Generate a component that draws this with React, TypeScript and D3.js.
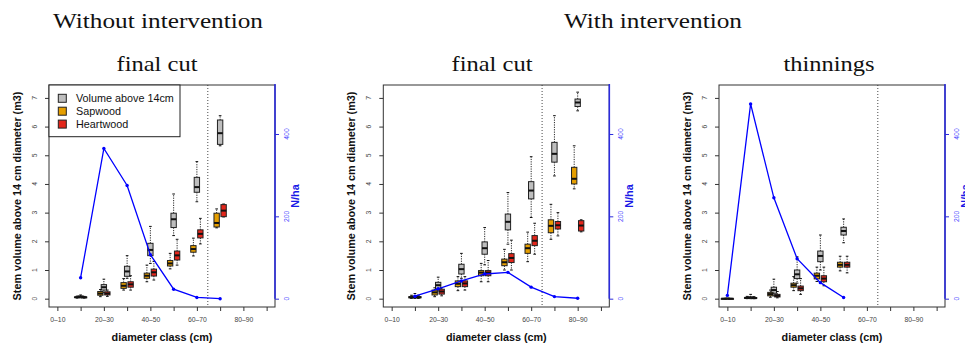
import { useEffect, useRef } from 'react';
import * as d3 from 'd3';

// diameter classes on the x axis
const allClasses = ['0–10', '10–20', '20–30', '30–40', '40–50', '50–60', '60–70', '70–80', '80–90', '90–100'];
const shownTickLabels = ['0–10', '20–30', '40–50', '60–70', '80–90'];

// box stats: [min, q1, median, q3, max] (m3)
// without intervention, final cut
const classesA = ['10–20', '20–30', '30–40', '40–50', '50–60', '60–70', '70–80'];
const volumeA = [
  [0.03, 0.05, 0.07, 0.09, 0.13],
  [0.22, 0.3, 0.4, 0.49, 0.68],
  [0.71, 0.78, 0.95, 1.13, 1.5],
  [1.23, 1.5, 1.7, 1.93, 2.52],
  [2.2, 2.48, 2.77, 2.98, 3.65],
  [3.38, 3.71, 3.89, 4.23, 4.78],
  [5.33, 5.38, 5.77, 6.23, 6.38],
];
const sapwoodA = [
  [0.02, 0.04, 0.05, 0.06, 0.09],
  [0.07, 0.12, 0.18, 0.25, 0.32],
  [0.3, 0.36, 0.45, 0.56, 0.7],
  [0.59, 0.71, 0.8, 0.89, 1.17],
  [1.04, 1.14, 1.23, 1.33, 1.58],
  [1.49, 1.62, 1.73, 1.85, 2.11],
  [2.47, 2.5, 2.64, 2.98, 3.13],
];
const heartwoodA = [
  [0.02, 0.03, 0.05, 0.06, 0.08],
  [0.08, 0.13, 0.18, 0.24, 0.3],
  [0.3, 0.4, 0.5, 0.59, 0.8],
  [0.65, 0.79, 0.92, 1.03, 1.3],
  [1.17, 1.35, 1.51, 1.66, 2.07],
  [1.91, 2.12, 2.26, 2.4, 2.8],
  [2.85, 2.86, 3.07, 3.28, 3.3],
];
const nhaA = [51, 365, 275, 107, 23, 3, 0];

// with intervention, final cut
const classesB = ['10–20', '20–30', '30–40', '40–50', '50–60', '60–70', '70–80', '80–90'];
const volumeB = [
  [0.01, 0.04, 0.06, 0.09, 0.18],
  [0.27, 0.34, 0.47, 0.57, 0.75],
  [0.71, 0.86, 1.03, 1.2, 1.58],
  [1.18, 1.55, 1.76, 1.98, 2.48],
  [1.9, 2.4, 2.68, 2.95, 3.7],
  [2.83, 3.48, 3.77, 4.08, 4.95],
  [4.28, 4.76, 5.05, 5.45, 6.38],
  [6.55, 6.7, 6.84, 6.96, 7.2],
];
const sapwoodB = [
  [0.01, 0.03, 0.05, 0.07, 0.12],
  [0.07, 0.13, 0.22, 0.3, 0.38],
  [0.28, 0.42, 0.52, 0.62, 0.77],
  [0.59, 0.8, 0.91, 0.98, 1.23],
  [1.0, 1.15, 1.27, 1.38, 1.72],
  [1.29, 1.58, 1.76, 1.9, 2.32],
  [2.07, 2.3, 2.54, 2.75, 3.29],
  [3.83, 4.0, 4.18, 4.58, 5.33],
];
const heartwoodB = [
  [0.01, 0.03, 0.05, 0.07, 0.12],
  [0.1, 0.16, 0.25, 0.33, 0.38],
  [0.3, 0.42, 0.53, 0.62, 0.77],
  [0.59, 0.8, 0.91, 0.98, 1.33],
  [1.0, 1.26, 1.42, 1.57, 2.04],
  [1.55, 1.85, 2.02, 2.2, 2.63],
  [2.19, 2.43, 2.56, 2.69, 3.0],
  [2.33, 2.36, 2.55, 2.72, 2.75],
];
const nhaB = [6, 24, 43, 60, 64, 28, 5, 1];

// with intervention, thinnings
const classesC = ['0–10', '10–20', '20–30', '30–40', '40–50', '50–60'];
const volumeC = [
  [0, 0, 0, 0.01, 0.02],
  [0, 0.02, 0.04, 0.06, 0.15],
  [0.1, 0.19, 0.3, 0.4, 0.68],
  [0.54, 0.7, 0.85, 1.0, 1.46],
  [1.0, 1.29, 1.49, 1.66, 2.22],
  [1.95, 2.22, 2.36, 2.49, 2.78],
];
const sapwoodC = [
  [0, 0, 0, 0, 0.01],
  [0, 0.01, 0.03, 0.04, 0.08],
  [0.05, 0.1, 0.16, 0.22, 0.3],
  [0.28, 0.4, 0.47, 0.54, 0.77],
  [0.6, 0.69, 0.8, 0.89, 1.1],
  [0.97, 1.1, 1.18, 1.27, 1.48],
];
const heartwoodC = [
  [0, 0, 0, 0, 0.01],
  [0, 0.01, 0.02, 0.04, 0.07],
  [0.03, 0.06, 0.1, 0.15, 0.25],
  [0.15, 0.28, 0.36, 0.44, 0.7],
  [0.45, 0.59, 0.7, 0.8, 1.1],
  [0.9, 1.1, 1.18, 1.27, 1.48],
];
const nhaC = [8, 473, 245, 97, 39, 3];

const legendLabels = ['Volume above 14cm', 'Sapwood', 'Heartwood'];
const boxColors = ['#bebebe', '#e69f00', '#e3261b'];

const App = () => {
  const svgRef = useRef<SVGSVGElement>(null);

  useEffect(() => {
    const svg = d3.select(svgRef.current);
    svg.selectAll('*').remove();

    const top = 85;
    const bottom = 307;
    const pw = 226;
    const sans = 'Liberation Sans, Arial, sans-serif';
    const serif = 'Liberation Serif, Times New Roman, serif';
    const blue = '#0000ff';
    const blueAxis = '#2b2bdd';
    const blueText = '#4545ff';

    const yV = d3.scaleLinear().domain([-0.29, 7.45]).range([bottom, top]);
    const yN = d3.scaleLinear().domain([-20.2, 519]).range([bottom, top]);

    // titles
    const titles = [
      { t: 'Without intervention', x: 158, y: 28, w: 210 },
      { t: 'With intervention', x: 653, y: 28, w: 178 },
      { t: 'final cut', x: 157, y: 71, w: 81 },
      { t: 'final cut', x: 492, y: 71, w: 81 },
      { t: 'thinnings', x: 829, y: 71, w: 91 },
    ];
    titles.forEach((d) => {
      svg
        .append('text')
        .attr('x', d.x)
        .attr('y', d.y)
        .attr('text-anchor', 'middle')
        .attr('textLength', d.w)
        .attr('lengthAdjust', 'spacingAndGlyphs')
        .style('font-family', serif)
        .style('font-size', '22px')
        .style('fill', '#111')
        .text(d.t);
    });

    const panels = [
      { left: 49, classes: classesA, series: [volumeA, sapwoodA, heartwoodA], nha: nhaA, legend: true },
      { left: 383.3, classes: classesB, series: [volumeB, sapwoodB, heartwoodB], nha: nhaB, legend: false },
      { left: 719, classes: classesC, series: [volumeC, sapwoodC, heartwoodC], nha: nhaC, legend: false },
    ];
    const offsets = [0, -0.15, 0.15];

    panels.forEach((p) => {
      const g = svg.append('g');
      const right = p.left + pw;
      const x = d3.scaleLinear().domain([0.64, 10.36]).range([p.left, right]);
      const xi = (c: string) => allClasses.indexOf(c) + 1;
      const bw = x(1.23) - x(1);

      // dotted divider
      g.append('line')
        .attr('x1', x(7.47))
        .attr('x2', x(7.47))
        .attr('y1', top)
        .attr('y2', bottom)
        .attr('stroke', '#333')
        .attr('stroke-width', 0.9)
        .attr('stroke-dasharray', '1,2');

      // boxplots
      p.series.forEach((s, si) => {
        s.forEach((st, ci) => {
          const cx = x(xi(p.classes[ci]) + offsets[si]);
          const [mn, q1, md, q3, mx] = st.map((v) => yV(v));
          const bg = g.append('g');
          [
            [q3, mx],
            [q1, mn],
          ].forEach(([a, b]) => {
            bg.append('line')
              .attr('x1', cx).attr('x2', cx).attr('y1', a).attr('y2', b)
              .attr('stroke', '#111').attr('stroke-width', 0.9)
              .attr('stroke-dasharray', '1.2,1.2');
          });
          [mn, mx].forEach((v) => {
            bg.append('line')
              .attr('x1', cx - bw / 4).attr('x2', cx + bw / 4).attr('y1', v).attr('y2', v)
              .attr('stroke', '#111').attr('stroke-width', 1);
          });
          bg.append('rect')
            .attr('x', cx - bw / 2)
            .attr('y', q3)
            .attr('width', bw)
            .attr('height', Math.max(q1 - q3, 0.6))
            .attr('fill', boxColors[si])
            .attr('stroke', '#222')
            .attr('stroke-width', 1);
          bg.append('line')
            .attr('x1', cx - bw / 2).attr('x2', cx + bw / 2).attr('y1', md).attr('y2', md)
            .attr('stroke', '#111').attr('stroke-width', 2);
        });
      });

      // N/ha line
      const pts = p.nha.map((v, i) => [x(xi(p.classes[i])), yN(v)] as [number, number]);
      g.append('path')
        .attr('d', d3.line()(pts))
        .attr('fill', 'none')
        .attr('stroke', blue)
        .attr('stroke-width', 1.3);
      g.selectAll('circle.pt')
        .data(pts)
        .enter()
        .append('circle')
        .attr('cx', (d) => d[0])
        .attr('cy', (d) => d[1])
        .attr('r', 1.7)
        .attr('fill', blue);

      // frame
      g.append('rect')
        .attr('x', p.left)
        .attr('y', top)
        .attr('width', pw)
        .attr('height', bottom - top)
        .attr('fill', 'none')
        .attr('stroke', '#333')
        .attr('stroke-width', 1);

      // left axis
      const la = g
        .append('g')
        .attr('transform', `translate(${p.left},0)`)
        .call(d3.axisLeft(yV).tickValues(d3.range(0, 8)).tickSize(4).tickSizeOuter(0).tickFormat(() => ''));
      la.select('.domain').remove();
      la.selectAll('line').attr('stroke', '#333');
      d3.range(0, 8).forEach((v) => {
        g.append('text')
          .attr('transform', `translate(${p.left - 12},${yV(v)}) rotate(-90)`)
          .attr('text-anchor', 'middle')
          .style('font-family', sans)
          .style('font-size', '6.8px')
          .style('fill', '#444')
          .text(v);
      });

      // bottom axis
      const ba = g
        .append('g')
        .attr('transform', `translate(0,${bottom})`)
        .call(
          d3
            .axisBottom(x)
            .tickValues(d3.range(1, 11))
            .tickSize(4)
            .tickSizeOuter(0)
            .tickPadding(6)
            .tickFormat((d) => {
              const lab = allClasses[(d as number) - 1];
              return shownTickLabels.includes(lab) ? lab : '';
            })
        );
      ba.select('.domain').remove();
      ba.selectAll('line').attr('stroke', '#333');
      ba.selectAll('text').style('font-family', sans).style('font-size', '6.8px').style('fill', '#444');

      // right axis (N/ha)
      g.append('line')
        .attr('x1', right).attr('x2', right).attr('y1', top - 1).attr('y2', yN(0))
        .attr('stroke', blueAxis).attr('stroke-width', 1.6);
      const ra = g
        .append('g')
        .attr('transform', `translate(${right},0)`)
        .call(d3.axisRight(yN).tickValues([0, 200, 400]).tickSize(4).tickSizeOuter(0).tickFormat(() => ''));
      ra.select('.domain').remove();
      ra.selectAll('line').attr('stroke', blueAxis);
      [0, 200, 400].forEach((v) => {
        g.append('text')
          .attr('transform', `translate(${right + 14},${yN(v)}) rotate(-90)`)
          .attr('text-anchor', 'middle')
          .style('font-family', sans)
          .style('font-size', '6.8px')
          .style('fill', blueText)
          .text(v);
      });

      // axis titles
      const midY = (top + bottom) / 2;
      g.append('text')
        .attr('transform', `translate(${p.left - 28.5},${midY}) rotate(-90)`)
        .attr('text-anchor', 'middle')
        .style('font-family', sans)
        .style('font-size', '10.8px')
        .style('font-weight', 'bold')
        .style('fill', '#111')
        .text('Stem volume above 14 cm diameter (m3)');
      g.append('text')
        .attr('transform', `translate(${right + 24},${midY}) rotate(-90)`)
        .attr('text-anchor', 'middle')
        .style('font-family', sans)
        .style('font-size', '10.8px')
        .style('font-weight', 'bold')
        .style('fill', '#1a1ae6')
        .text('N/ha');
      g.append('text')
        .attr('x', p.left + pw / 2)
        .attr('y', 341)
        .attr('text-anchor', 'middle')
        .style('font-family', sans)
        .style('font-size', '10.8px')
        .style('font-weight', 'bold')
        .style('fill', '#111')
        .text('diameter class (cm)');

      // legend
      if (p.legend) {
        const lg = g.append('g');
        lg.append('rect')
          .attr('x', p.left)
          .attr('y', top)
          .attr('width', 131)
          .attr('height', 51.7)
          .attr('fill', '#fff')
          .attr('stroke', '#222')
          .attr('stroke-width', 1);
        legendLabels.forEach((lab, i) => {
          const cy = 98.3 + i * 12.9;
          lg.append('rect')
            .attr('x', p.left + 9.3)
            .attr('y', cy - 4)
            .attr('width', 8)
            .attr('height', 8)
            .attr('fill', boxColors[i])
            .attr('stroke', '#222')
            .attr('stroke-width', 1);
          lg.append('text')
            .attr('x', p.left + 27)
            .attr('y', cy + 3.8)
            .style('font-family', sans)
            .style('font-size', '10.8px')
            .style('fill', '#111')
            .text(lab);
        });
      }
    });
  }, []);

  return (
    <svg
      ref={svgRef}
      width={965}
      height={345}
      style={{ position: 'absolute', left: 0, top: 0, background: '#fff' }}
    ></svg>
  );
};

export default App;
